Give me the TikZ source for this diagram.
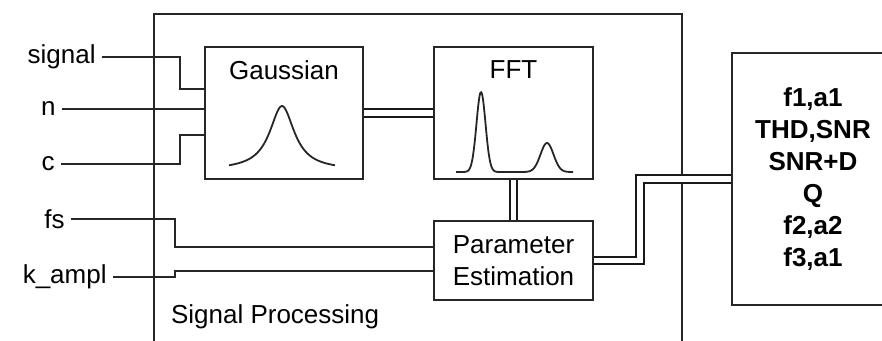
\documentclass[tikz,border=0pt]{standalone}
\usepackage{fontspec}
\setmainfont{Liberation Sans}
\usetikzlibrary{positioning}

\tikzset{
    block/.style={draw=black!85, line width=0.9pt, inner sep=0pt},
    wire/.style={draw=black!85, line width=0.9pt},
    bus/.style={draw=black!90, line width=1pt, double, double distance=2.6pt},
    inlabel/.style={anchor=east, inner sep=3pt},
}

\begin{document}
\begin{tikzpicture}[x=0.5pt, y=-0.5pt, font=\fontsize{13}{16}\selectfont]
            \useasboundingbox (0,0) rectangle (882,341);

            % outer block and result block, both run off the page
            \node[block, minimum width=264pt, minimum height=178pt] (sigproc) at (418,192) {} ; %
            \node[anchor=base west] (sigproclabel) at (164,323) {Signal Processing} ; %
            \node[block, minimum width=81pt, minimum height=126pt, align=center,
                  font=\fontsize{13}{16}\selectfont\bfseries] (results) at (813,179)
                {f1,a1\\THD,SNR\\SNR+D\\Q\\f2,a2\\f3,a1} ; %

            % inner blocks
            \node[block, minimum width=79pt, minimum height=66pt] (gauss) at (284,113) {} ; %
            \node[block, minimum width=79.5pt, minimum height=66pt] (fft) at (513.5,113) {} ; %
            \node[block, minimum width=79.5pt, minimum height=39.5pt, align=center] (param) at (513.5,260.5) {Parameter\\Estimation} ; %
            \node[anchor=base] (gausstitle) at ([yshift=-16.5pt]gauss.north) {Gaussian} ; %
            \node[anchor=base] (ffttitle) at ([yshift=-16pt]fft.north) {FFT} ; %

            % inputs
            \node[inlabel] (signal) at (102,57) {signal} ; %
            \node[inlabel] (n) at (62,109) {n} ; %
            \node[inlabel] (c) at (61,164) {c} ; %
            \node[inlabel] (fs) at (71,219) {fs} ; %
            \node[inlabel] (kampl) at (113,277) {k\_ampl} ; %

            \draw[wire] (signal.east) -| ([xshift=-12pt,yshift=12pt]gauss.west) -- ([yshift=12pt]gauss.west) ; %
            \draw[wire] (n.east) -- ([yshift=2pt]gauss.west) ; %
            \draw[wire] (c.east) -| ([xshift=-12pt,yshift=-11pt]gauss.west) -- ([yshift=-11pt]gauss.west) ; %
            \draw[wire] (fs.east) -- (175,219) |- ([yshift=6.75pt]param.west) ; %
            \draw[wire] (kampl.east) -- (175,277) |- ([yshift=-5.25pt]param.west) ; %

            % buses between the blocks
            \draw[bus] (gauss.east) -- (fft.west) ; %
            \draw[bus] (fft.south) -- (param.north) ; %
            \draw[bus] (param.east) -- ++(23pt,0) |- (results.west) ; %

            % curve sketches
            \draw[wire, line join=round] plot[domain=229:335, samples=80, smooth]
                (\x, {170 - 64/(1+((\x-282)/15)^2)}) ; %
            \draw[wire, line join=round] plot[domain=456:573, samples=140, smooth]
                (\x, {172 - 80*exp(-min(((\x-481)/4.5)^2/2, 9)) - 29*exp(-min(((\x-547)/6.5)^2/2, 9))}) ; %
\end{tikzpicture}
\end{document}
